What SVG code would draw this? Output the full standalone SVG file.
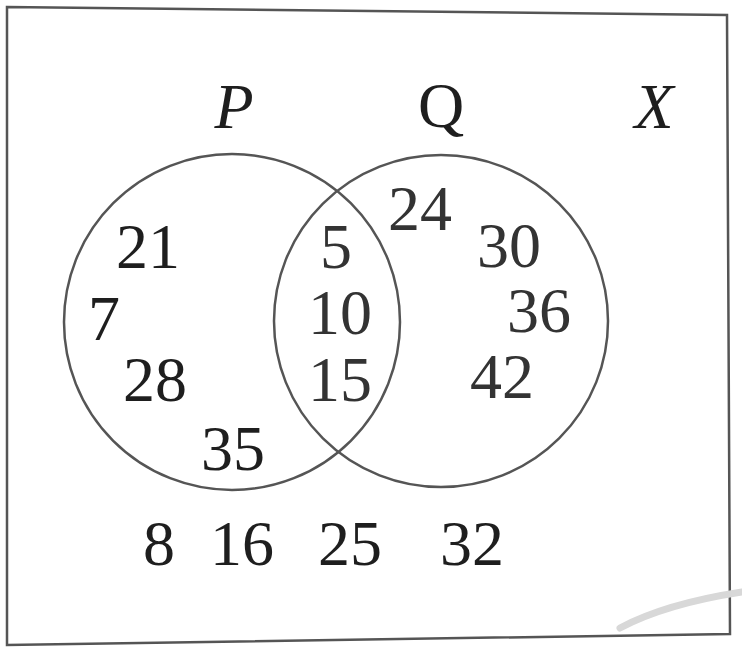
<svg xmlns="http://www.w3.org/2000/svg" width="742" height="649" viewBox="0 0 742 649">
<style>
.frame{fill:none;stroke:#555;stroke-width:2.5}
.set{fill:none;stroke:#555;stroke-width:2.5}
text{font-family:'Liberation Serif','DejaVu Serif',serif;fill:#1e1e1e;text-anchor:middle}
.lab{font-size:64px;font-style:italic}
.num{font-size:64px}
.lite{fill:#333}
</style>
<rect width="742" height="649" fill="#ffffff"/>
<g id="universe">
<polygon class="frame" points="7,7 727,15 730,634 7,645"/>
<path d="M620,628 C650,612 690,600 742,592" fill="none" stroke="#d8d8d8" stroke-width="7" stroke-linecap="round"/>
<text class="lab" x="654" y="128" font-family="Liberation Serif, serif">X</text>
</g>
<g id="P">
<ellipse class="set" cx="232" cy="322" rx="168" ry="168"/>
<text class="lab" x="234" y="128" font-family="Liberation Serif, serif">P</text>
</g>
<g id="Q">
<ellipse class="set" cx="441" cy="321" rx="167" ry="166"/>
<text class="num" x="441" y="127" font-family="Liberation Serif, serif">Q</text>
</g>
<g id="P-only" font-family="Liberation Serif, serif">
<text class="num" x="148" y="268">21</text>
<text class="num" x="104" y="340">7</text>
<text class="num" x="155" y="401">28</text>
<text class="num" x="233" y="470">35</text>
</g>
<g id="P-and-Q" font-family="Liberation Serif, serif">
<text class="num lite" x="336" y="268">5</text>
<text class="num lite" x="340" y="334">10</text>
<text class="num lite" x="340" y="401">15</text>
</g>
<g id="Q-only" font-family="Liberation Serif, serif">
<text class="num lite" x="420" y="230">24</text>
<text class="num lite" x="509" y="267">30</text>
<text class="num lite" x="539" y="332">36</text>
<text class="num lite" x="502" y="398">42</text>
</g>
<g id="outside" font-family="Liberation Serif, serif">
<text class="num" x="159" y="565">8</text>
<text class="num" x="242" y="565">16</text>
<text class="num" x="350" y="565">25</text>
<text class="num" x="472" y="565">32</text>
</g>
<g id="connectors"></g>
</svg>
